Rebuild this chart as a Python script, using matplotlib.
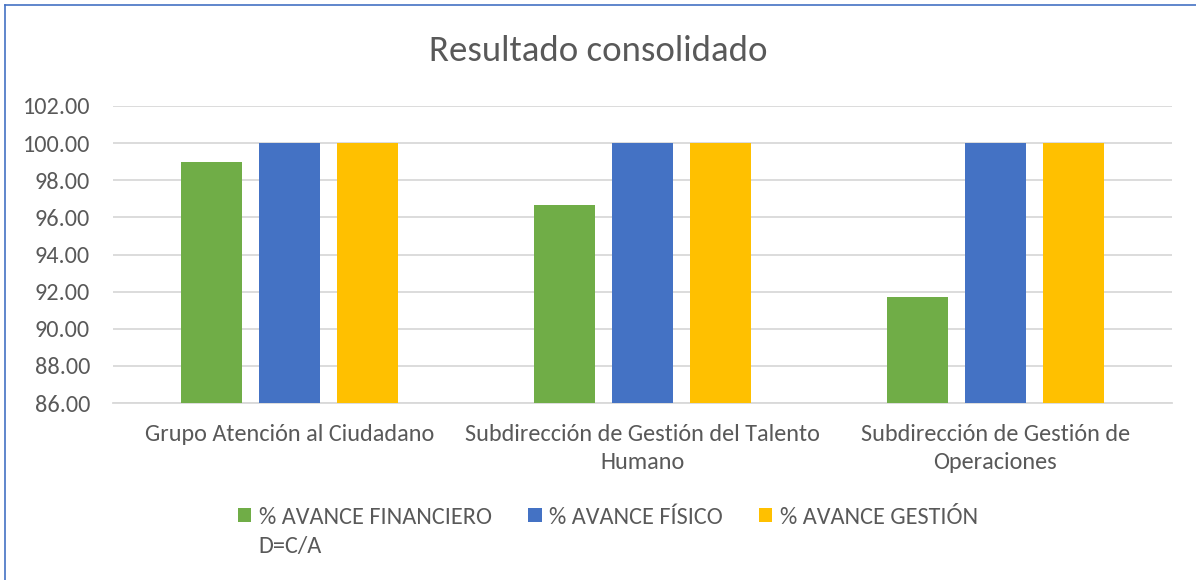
import matplotlib
matplotlib.use("Agg")
import matplotlib.pyplot as plt
from matplotlib import font_manager
from matplotlib.lines import Line2D
import numpy as np

categories = ["Grupo Atención al Ciudadano",
              "Subdirección de Gestión del Talento\nHumano",
              "Subdirección de Gestión de\nOperaciones"]
series_names = ["% AVANCE FINANCIERO", "% AVANCE FÍSICO", "% AVANCE GESTIÓN"]
financiero = [98.97, 96.67, 91.69]
fisico = [100.0, 100.0, 100.0]
gestion = [100.0, 100.0, 100.0]
legend_extra = "D=C/A"
yticks = [86, 88, 90, 92, 94, 96, 98, 100, 102]
title = "Resultado consolidado"

colors = ["#70AD47", "#4472C4", "#FFC000"]
text_color = "#595959"

avail = {f.name for f in font_manager.fontManager.ttflist}
fam = None
for cand in ["Carlito", "Liberation Sans Narrow", "Open Sans", "Noto Sans", "DejaVu Sans"]:
    if cand in avail:
        fam = cand
        break
plt.rcParams['font.family'] = [fam, "DejaVu Sans"]

FS = 17.5

fig = plt.figure(figsize=(11.96, 5.80), dpi=100)
ax = fig.add_axes([113/1196, 1-403/580, (1172-113)/1196, (403-106)/580])

x = np.arange(len(categories))
w = 0.175
step = 0.221
for i, (vals, name, c) in enumerate(zip([financiero, fisico, gestion], series_names, colors)):
    ax.bar(x + (i-1)*step, np.array(vals) - 86, bottom=86, width=w, color=c, label=name, zorder=3)

ax.set_xlim(-0.5, len(categories)-0.5)
ax.set_ylim(86, 102)
ax.set_yticks(yticks)
ax.set_yticklabels([f"{v:.2f}" for v in yticks])
ax.yaxis.grid(True, color="#D9D9D9", linewidth=1.3, zorder=0)
ax.set_axisbelow(True)
for s in ["top", "right", "left"]:
    ax.spines[s].set_visible(False)
ax.spines["bottom"].set_color("#D9D9D9")
ax.spines["bottom"].set_linewidth(1.3)
ax.tick_params(axis="both", length=0, colors=text_color, labelsize=FS)
ax.tick_params(axis="y", pad=16.5)
ax.set_xticks(x)
ax.set_xticklabels(categories, linespacing=1.45, va="top")
ax.tick_params(axis="x", pad=15)

fig.text(0.5, 1-51/580, title, ha="center", va="center", fontsize=26.5, color=text_color)

leg = fig.legend(loc="center", bbox_to_anchor=(608/1196, 1-517/580), ncol=3, frameon=False,
                 handlelength=0.55, handleheight=0.55, handletextpad=0.3, columnspacing=1.5,
                 fontsize=FS, labelcolor=text_color)

fig.canvas.draw()
r = fig.canvas.get_renderer()
t0 = leg.get_texts()[0]
bb = t0.get_window_extent(r)
fig.text(bb.x0 / fig.bbox.width, (bb.y0 - 30) / fig.bbox.height, legend_extra,
         ha="left", va="bottom", fontsize=FS, color=text_color)

border = "#4472C4"
fig.add_artist(Line2D([5/1196, 5/1196], [0, 1-5/580], color=border, linewidth=1.2, transform=fig.transFigure))
fig.add_artist(Line2D([5/1196, 1], [1-5/580, 1-5/580], color=border, linewidth=1.2, transform=fig.transFigure))

fig.savefig("out.png", dpi=100, facecolor="white")
